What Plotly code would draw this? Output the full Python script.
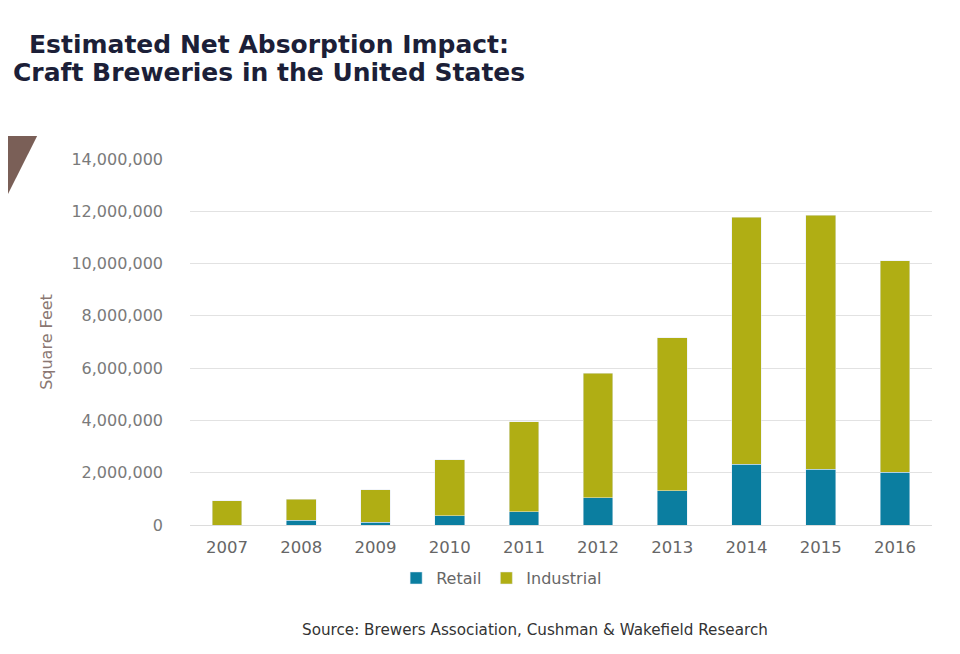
import plotly.graph_objects as go

years = ["2007", "2008", "2009", "2010", "2011", "2012", "2013", "2014", "2015", "2016"]
retail = [0, 180000, 110000, 360000, 500000, 1040000, 1310000, 2330000, 2130000, 2020000]
total = [930000, 980000, 1340000, 2490000, 3950000, 5800000, 7170000, 11770000, 11850000, 10100000]
industrial = [t - r for t, r in zip(total, retail)]

yticks = [0, 2000000, 4000000, 6000000, 8000000, 10000000, 12000000, 14000000]

title_lines = ["Estimated Net Absorption Impact:", "Craft Breweries in the United States"]
source = "Source: Brewers Association, Cushman & Wakefield Research"

fig = go.Figure()
fig.add_trace(go.Bar(x=years, y=retail, name="Retail", marker_color="#0b7ea0"))
fig.add_trace(go.Bar(x=years, y=industrial, name="Industrial", marker_color="#b0ae14"))

fig.update_layout(
    width=960, height=654,
    margin=dict(l=182, r=36, t=151, b=137),
    paper_bgcolor="white", plot_bgcolor="white",
    barmode="stack", bargap=0.6,
    font=dict(family="DejaVu Sans", color="#777777"),
    legend=dict(
        orientation="h", x=0.42, xanchor="center", y=-0.145, yanchor="middle",
        font=dict(size=16, color="#666666"), itemwidth=30, traceorder="normal",
    ),
    showlegend=True,
)
fig.update_xaxes(
    showgrid=False, showline=False, ticks="",
    tickfont=dict(size=16.5, color="#666666"), ticklabelstandoff=10,
)
fig.update_yaxes(
    range=[0, 14000000], tickvals=yticks, tickformat=",",
    showgrid=True, gridcolor="#e2e2e2", gridwidth=1,
    zeroline=True, zerolinecolor="#dcdcdc", zerolinewidth=1,
    tickfont=dict(size=16, color="#7a7a7a"), ticks="", ticklabelstandoff=26,
    title=dict(text="Square Feet", font=dict(size=16, color="#8a7772"), standoff=14),
)

# brown corner decoration
fig.add_shape(
    type="path", xref="paper", yref="paper",
    path="M -0.27 1.063 L -0.206 1.063 L -0.256 0.861 L -0.27 0.861 Z",
    fillcolor="#7a5f57", line_width=0, layer="above",
)

# two-line title
for txt, ty in zip(title_lines, [1.3115, 1.235]):
    fig.add_annotation(
        text="<b>" + txt + "</b>", xref="paper", yref="paper", x=0.1065, y=ty,
        xanchor="center", yanchor="middle", showarrow=False,
        font=dict(family="DejaVu Sans", size=25, color="#1c1f38"),
    )

fig.add_annotation(
    text=source,
    xref="paper", yref="paper", x=0.465, y=-0.287,
    xanchor="center", yanchor="middle", showarrow=False,
    font=dict(size=15.2, color="#333333"),
)

fig.write_html("out.html")
